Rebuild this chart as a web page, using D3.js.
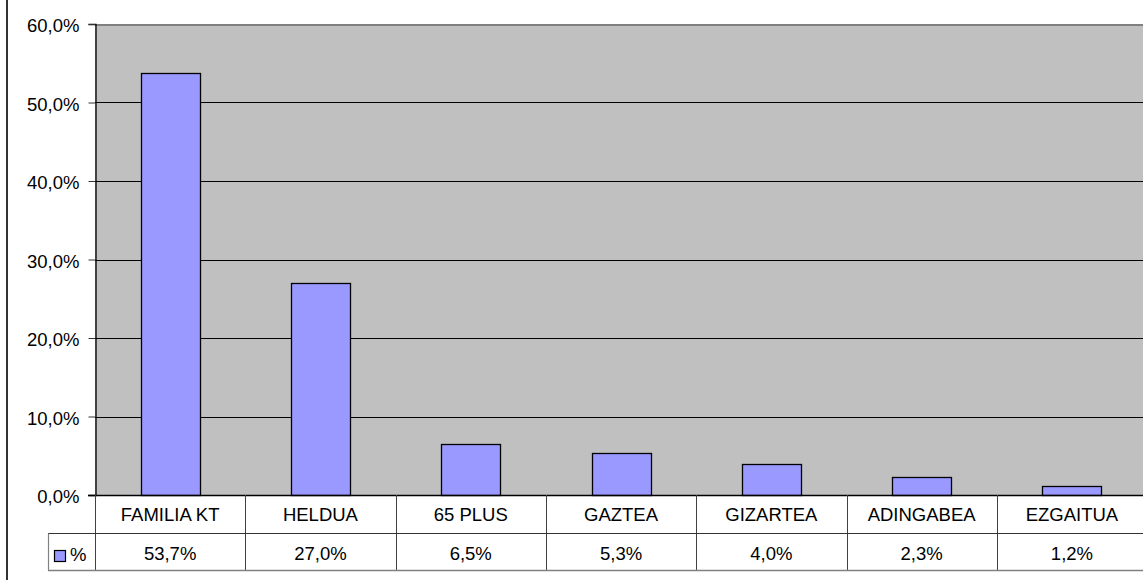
<!DOCTYPE html>
<html><head><meta charset="utf-8">
<script src="https://cdn.jsdelivr.net/npm/d3@7"></script>
<style>body{margin:0;background:#fff}svg{display:block}</style>
</head><body>
<script>
const categories = ["FAMILIA KT","HELDUA","65 PLUS","GAZTEA","GIZARTEA","ADINGABEA","EZGAITUA"];
const values = [53.7,27.0,6.5,5.3,4.0,2.3,1.2];
const valueLabels = ["53,7%","27,0%","6,5%","5,3%","4,0%","2,3%","1,2%"];
const yTicks = [0,10,20,30,40,50,60];
const seriesName = "%";

(function(){
const W = 1143, H = 580;
const pLeft = 95, colW = 150.3, pTop = 24, pBottom = 495;
const pRight = pLeft + colW * categories.length;
const svg = d3.select("body").append("svg").attr("width", W).attr("height", H);
const font = "'Liberation Sans', Arial, sans-serif";
const fs = 18.5;

const x = d3.scaleBand().domain(categories).range([pLeft, pRight]).paddingInner(0).paddingOuter(0);
const y = d3.scaleLinear().domain([0, 60]).range([pBottom, pTop]);

svg.append("line").attr("x1",7).attr("x2",7).attr("y1",0).attr("y2",H).attr("stroke","#333").attr("stroke-width",2);

svg.append("rect").attr("x",pLeft).attr("y",pTop).attr("width",pRight-pLeft).attr("height",pBottom-pTop).attr("fill","#C0C0C0");

svg.append("g").selectAll("line").data(yTicks.filter(d => d > 0 && d < 60)).join("line")
  .attr("x1",pLeft).attr("x2",pRight).attr("y1",d=>Math.round(y(d))+0.5).attr("y2",d=>Math.round(y(d))+0.5)
  .attr("stroke","#000").attr("stroke-width",1);
svg.append("line").attr("x1",pLeft).attr("x2",pRight).attr("y1",pTop+1).attr("y2",pTop+1).attr("stroke","#808080").attr("stroke-width",2);

const bw = 59;
svg.append("g").selectAll("rect").data(values).join("rect")
  .attr("x",(d,i)=>Math.round(x(categories[i]) + x.bandwidth()/2 - bw/2)+0.5)
  .attr("y",d=>Math.round(y(d))+0.5)
  .attr("width",bw)
  .attr("height",d=>Math.round(y(0))-Math.round(y(d)))
  .attr("fill","#9999FF").attr("stroke","#000").attr("stroke-width",1.3);

const yAxis = d3.axisLeft(y).tickValues(yTicks).tickSize(7).tickPadding(9)
  .tickFormat(d => d3.format(".1f")(d).replace(".", ",") + "%");
const ga = svg.append("g").attr("transform",`translate(${pLeft+0.5},0)`).call(yAxis);
ga.select(".domain").attr("stroke","#000").attr("stroke-width",1.3);
ga.selectAll(".tick line").attr("stroke","#333");
ga.selectAll(".tick text").attr("font-family",font).attr("font-size",fs).attr("fill","#000").attr("dy","0.42em");

svg.append("line").attr("x1",pLeft-7).attr("x2",pRight).attr("y1",pBottom+0.5).attr("y2",pBottom+0.5).attr("stroke","#000").attr("stroke-width",1.3);

const row1 = 533.5, row2 = 570.5, legendLeft = 48;
const tg = svg.append("g");
tg.selectAll("line.div").data(categories.map((c,i)=>i).concat([categories.length])).join("line")
  .attr("class","div")
  .attr("x1",i=>Math.round(pLeft + i*colW)+0.5).attr("x2",i=>Math.round(pLeft + i*colW)+0.5)
  .attr("y1",pBottom).attr("y2",row2)
  .attr("stroke","#404040").attr("stroke-width",1);
tg.append("line").attr("x1",legendLeft).attr("x2",pRight).attr("y1",row1).attr("y2",row1).attr("stroke","#333").attr("stroke-width",1.2);
tg.append("line").attr("x1",legendLeft).attr("x2",pRight).attr("y1",row2).attr("y2",row2).attr("stroke","#808080").attr("stroke-width",1.5);
tg.append("line").attr("x1",legendLeft+0.5).attr("x2",legendLeft+0.5).attr("y1",row1).attr("y2",row2).attr("stroke","#808080").attr("stroke-width",1.2);

tg.selectAll("text.cat").data(categories).join("text").attr("class","cat")
  .attr("x",d=>x(d)+x.bandwidth()/2).attr("y",521)
  .attr("text-anchor","middle").attr("font-family",font).attr("font-size",fs).attr("fill","#000").text(d=>d);
tg.selectAll("text.val").data(valueLabels).join("text").attr("class","val")
  .attr("x",(d,i)=>x(categories[i])+x.bandwidth()/2).attr("y",559.5)
  .attr("text-anchor","middle").attr("font-family",font).attr("font-size",fs).attr("fill","#000").text(d=>d);

tg.append("rect").attr("x",54.5).attr("y",550.5).attr("width",11).attr("height",11).attr("fill","#9999FF").attr("stroke","#000").attr("stroke-width",1.2);
tg.append("text").attr("x",70).attr("y",561).attr("font-family",font).attr("font-size",fs).attr("fill","#000").text(seriesName);
})();
</script>
</body></html>
